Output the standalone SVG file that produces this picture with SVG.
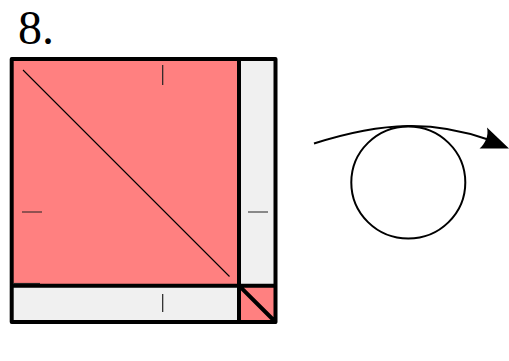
<svg xmlns="http://www.w3.org/2000/svg" width="509" height="361" viewBox="0 0 509 361">
<style>
.f{stroke:#000;stroke-width:4;stroke-linejoin:round;stroke-linecap:round}
.t{stroke:#222;stroke-width:1.200;fill:none}
</style>
<rect width="509" height="361" fill="#fff"/>
<text x="18" y="43.500" font-family="'Liberation Serif',serif" font-size="48" fill="#000">8.</text>
<g id="paper">
<rect x="12" y="59" width="227" height="227" fill="#ff8080"/>
<rect x="239" y="59" width="36" height="227" fill="#f0f0f0"/>
<rect x="12" y="286" width="227" height="36" fill="#f0f0f0"/>
<rect x="239" y="286" width="36" height="36" fill="#ff8080"/>
<path class="f" fill="none" d="M11.700 59H275.500V322H11.700ZM239 59V322M11.700 285.700H275.500M239 285.700L275.500 322"/>
<path d="M23 70L229.500 276.500" stroke="#000" stroke-width="1.100" fill="none"/>
<path d="M13 283.500H40" stroke="#222" stroke-width="1.200" fill="none"/>
<path class="t" d="M162.700 65V85M22 212H42M248 212H268M162.700 294V312"/>
</g>
<g id="fold">
<ellipse cx="408.300" cy="182.500" rx="57" ry="56" fill="none" stroke="#000" stroke-width="2"/>
<path d="M314 143.500C385 120.800 435 120.800 488 139.500" fill="none" stroke="#000" stroke-width="2"/>
<path d="M487 127.500L509 148.500H479.500C485 144 489 136 487 127.500Z" fill="#000"/>
</g>
</svg>
